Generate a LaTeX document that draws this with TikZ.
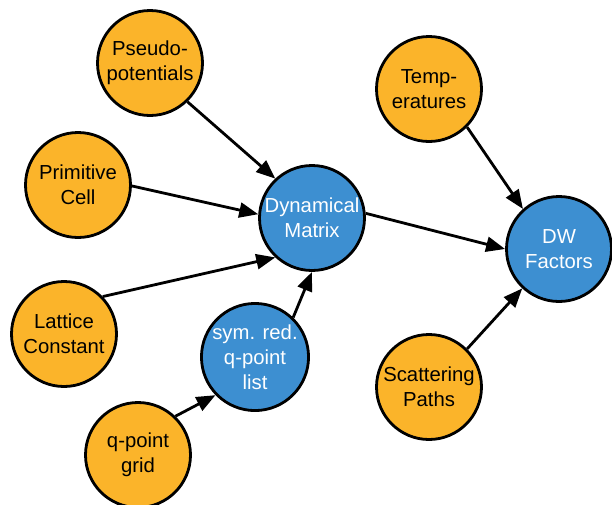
\documentclass[tikz,border=0pt]{standalone}
\usepackage{fontspec}
\setmainfont{Liberation Sans}
\usetikzlibrary{arrows.meta,positioning}

\definecolor{inorange}{HTML}{FBB42A}
\definecolor{calcblue}{HTML}{3D8FD1}

\begin{document}
\begin{tikzpicture}[x=1pt,y=-1pt,
    bubble/.style={circle, draw=black, line width=2.8pt, minimum size=105pt, inner sep=0pt,
      align=center, font=\fontsize{20.3}{25}\selectfont},
    inbox/.style={bubble, fill=inorange, text=black},
    calcbox/.style={bubble, fill=calcblue, text=white},
    flow/.style={line width=2.8pt, -{Triangle[length=19pt,width=15pt]}}]
    \useasboundingbox (0,0) rectangle (612,504);
    % inputs
    \node[inbox] (pseudo) at (150,63) {Pseudo-\\potentials};
    \node[inbox] (prim) at (78,185) {Primitive\\Cell};
    \node[inbox] (lattice) at (64,334) {Lattice\\Constant};
    \node[inbox] (qgrid) at (138,455) {q-point\\grid};
    \node[inbox] (temp) at (429,89) {Temp-\\eratures};
    \node[inbox] (scatter) at (429,387) {Scattering\\Paths};
    % computed
    \node[calcbox] (symred) at (255,357) {sym. red.\\q-point\\list};
    \node[calcbox] (dynmat) at (312,218) {Dynamical\\Matrix};
    \node[calcbox] (dwfac) at (559,249) {DW\\Factors};
    % edges
    \draw[flow] (pseudo.-46) -- (dynmat.133);
    \draw[flow] (prim.-1) -- (dynmat.176);
    \draw[flow] (lattice.44) -- (dynmat.227);
    \draw[flow] (qgrid.46) -- (symred.224);
    \draw[flow] (symred.46) -- (dynmat.-90);
    \draw[flow] (dynmat.5) -- (dwfac.180);
    \draw[flow] (temp.-45) -- (dwfac.132);
    \draw[flow] (scatter.45) -- (dwfac.227);
\end{tikzpicture}
\end{document}
